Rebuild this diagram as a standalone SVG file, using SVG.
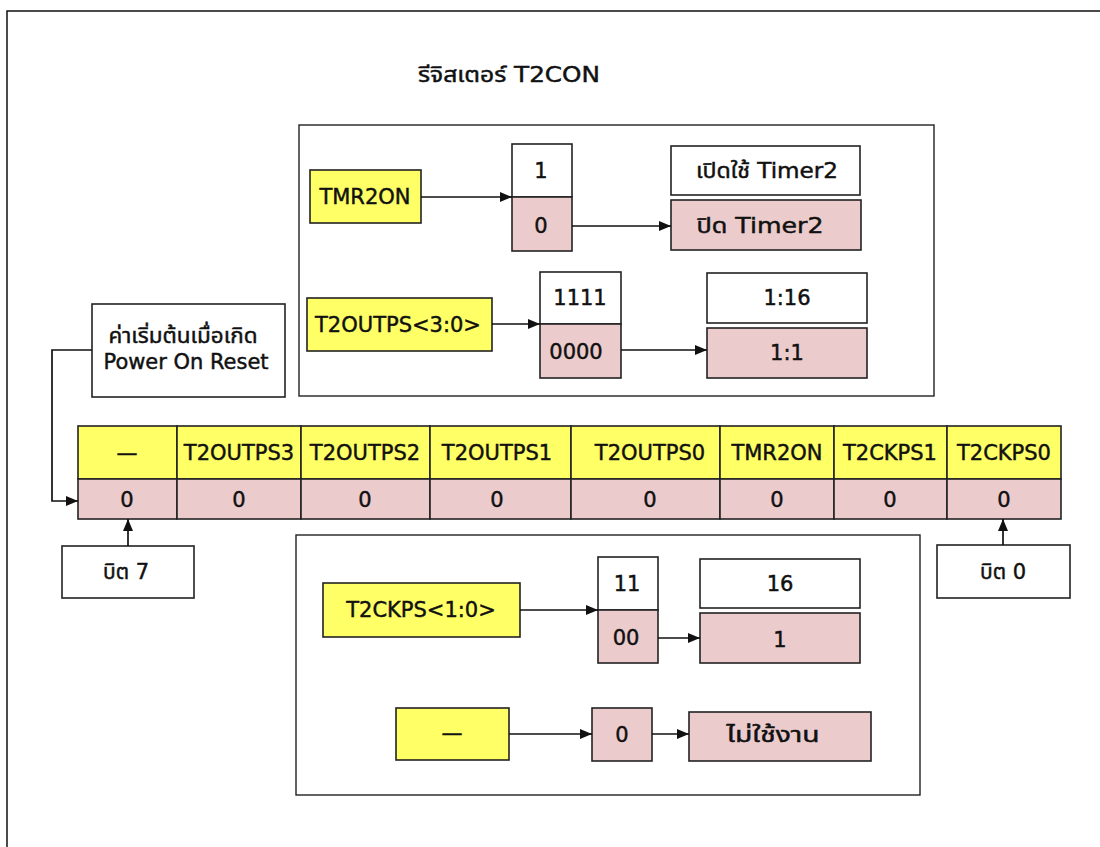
<svg xmlns="http://www.w3.org/2000/svg" width="1100" height="847" viewBox="0 0 1100 847">
  <style>
    text { font-family: "DejaVu Sans", "Noto Sans Thai", "Noto Sans", sans-serif; font-size: 21px; fill: #111; stroke: #111; stroke-width: 0.45; text-anchor: middle; dominant-baseline: central; }
    .box { stroke: #222; stroke-width: 1.6; }
    .white { fill: #ffffff; }
    .yellow { fill: #ffff66; }
    .pink { fill: #ebcbcb; }
    .panel { fill: none; stroke: #222; stroke-width: 1.4; }
    .wire { fill: none; stroke: #111; stroke-width: 1.7; }
  </style>
  <defs>
    <marker id="arrow" viewBox="0 0 12 10" refX="12" refY="5" markerWidth="12" markerHeight="10" markerUnits="userSpaceOnUse" orient="auto">
      <path d="M0,0 L12,5 L0,10 Z" fill="#111"/>
    </marker>
  </defs>

  <rect width="1100" height="847" fill="#ffffff"/>
  <!-- page frame -->
  <rect x="7" y="11" width="1110" height="860" fill="none" stroke="#111" stroke-width="1.5"/>

  <text id="title" x="509" y="75" textLength="182" lengthAdjust="spacingAndGlyphs">รีจิสเตอร์ T2CON</text>

  <!-- upper explanation panel -->
  <rect id="panel-top" class="panel" x="299" y="125" width="635" height="271"/>

  <g id="tmr2on-src">
    <rect class="box yellow" x="310" y="170" width="111" height="53"/>
    <text x="365" y="197">TMR2ON</text>
  </g>
  <g id="tmr2on-bits">
    <rect class="box white" x="512" y="144" width="60" height="53"/>
    <text x="541" y="171">1</text>
    <rect class="box pink" x="512" y="197" width="60" height="54"/>
    <text x="541" y="226">0</text>
  </g>
  <g id="tmr2on-on">
    <rect class="box white" x="671" y="146" width="189" height="49"/>
    <text x="767" y="171" textLength="142" lengthAdjust="spacingAndGlyphs">เปิดใช้ Timer2</text>
  </g>
  <g id="tmr2on-off">
    <rect class="box pink" x="671" y="200" width="190" height="50"/>
    <text x="760" y="226" textLength="127" lengthAdjust="spacingAndGlyphs">ปิด Timer2</text>
  </g>

  <g id="t2outps-src">
    <rect class="box yellow" x="307" y="298" width="185" height="53"/>
    <text x="398" y="325">T2OUTPS&lt;3:0&gt;</text>
  </g>
  <g id="t2outps-bits">
    <rect class="box white" x="540" y="272" width="81" height="52"/>
    <text x="580" y="298">1111</text>
    <rect class="box pink" x="540" y="324" width="81" height="54"/>
    <text x="576" y="352">0000</text>
  </g>
  <g id="t2outps-max">
    <rect class="box white" x="707" y="273" width="160" height="50"/>
    <text x="787" y="298">1:16</text>
  </g>
  <g id="t2outps-min">
    <rect class="box pink" x="707" y="328" width="160" height="50"/>
    <text x="787" y="353">1:1</text>
  </g>

  <!-- reset note -->
  <g id="reset-note">
    <rect class="box white" x="92" y="304" width="193" height="93"/>
    <text x="183" y="336" textLength="149" lengthAdjust="spacingAndGlyphs">ค่าเริ่มต้นเมื่อเกิด</text>
    <text x="186" y="362" textLength="165" lengthAdjust="spacingAndGlyphs">Power On Reset</text>
  </g>

  <!-- T2CON register row -->
  <g id="register">
    <rect class="box yellow" x="78" y="426" width="99" height="53"/>
    <rect class="box yellow" x="177" y="426" width="124" height="53"/>
    <rect class="box yellow" x="301" y="426" width="129" height="53"/>
    <rect class="box yellow" x="430" y="426" width="141" height="53"/>
    <rect class="box yellow" x="571" y="426" width="149" height="53"/>
    <rect class="box yellow" x="720" y="426" width="114" height="53"/>
    <rect class="box yellow" x="834" y="426" width="113" height="53"/>
    <rect class="box yellow" x="947" y="426" width="114" height="53"/>
    <rect class="box pink" x="78" y="479" width="99" height="40"/>
    <rect class="box pink" x="177" y="479" width="124" height="40"/>
    <rect class="box pink" x="301" y="479" width="129" height="40"/>
    <rect class="box pink" x="430" y="479" width="141" height="40"/>
    <rect class="box pink" x="571" y="479" width="149" height="40"/>
    <rect class="box pink" x="720" y="479" width="114" height="40"/>
    <rect class="box pink" x="834" y="479" width="113" height="40"/>
    <rect class="box pink" x="947" y="479" width="114" height="40"/>
    <text x="127" y="453">—</text>
    <text x="239" y="453">T2OUTPS3</text>
    <text x="365" y="453">T2OUTPS2</text>
    <text x="497" y="453">T2OUTPS1</text>
    <text x="650" y="453">T2OUTPS0</text>
    <text x="777" y="453">TMR2ON</text>
    <text x="890" y="453">T2CKPS1</text>
    <text x="1004" y="453">T2CKPS0</text>
    <text x="127" y="500">0</text>
    <text x="239" y="500">0</text>
    <text x="365" y="500">0</text>
    <text x="497" y="500">0</text>
    <text x="650" y="500">0</text>
    <text x="777" y="500">0</text>
    <text x="890" y="500">0</text>
    <text x="1004" y="500">0</text>
  </g>

  <g id="bit7">
    <rect class="box white" x="62" y="546" width="132" height="52"/>
    <text x="126" y="572">บิต 7</text>
  </g>
  <g id="bit0">
    <rect class="box white" x="937" y="545" width="133" height="53"/>
    <text x="1003" y="572">บิต 0</text>
  </g>

  <!-- lower explanation panel -->
  <rect id="panel-bottom" class="panel" x="296" y="535" width="624" height="260"/>

  <g id="t2ckps-src">
    <rect class="box yellow" x="323" y="583" width="197" height="54"/>
    <text x="421" y="610">T2CKPS&lt;1:0&gt;</text>
  </g>
  <g id="t2ckps-bits">
    <rect class="box white" x="598" y="557" width="60" height="53"/>
    <text x="627" y="584">11</text>
    <rect class="box pink" x="598" y="610" width="60" height="53"/>
    <text x="626" y="638">00</text>
  </g>
  <g id="t2ckps-max">
    <rect class="box white" x="700" y="559" width="160" height="49"/>
    <text x="780" y="584">16</text>
  </g>
  <g id="t2ckps-min">
    <rect class="box pink" x="700" y="613" width="160" height="50"/>
    <text x="780" y="640">1</text>
  </g>

  <g id="unused-src">
    <rect class="box yellow" x="396" y="708" width="113" height="52"/>
    <text x="452" y="733">—</text>
  </g>
  <g id="unused-bit">
    <rect class="box pink" x="592" y="708" width="60" height="53"/>
    <text x="622" y="735">0</text>
  </g>
  <g id="unused-desc">
    <rect class="box pink" x="689" y="712" width="182" height="49"/>
    <text x="773" y="735" textLength="93" lengthAdjust="spacingAndGlyphs">ไม่ใช้งาน</text>
  </g>

  <!-- connectors -->
  <g id="connectors">
    <line class="wire" x1="421" y1="197" x2="512" y2="197" marker-end="url(#arrow)"/>
    <line class="wire" x1="572" y1="226" x2="671" y2="226" marker-end="url(#arrow)"/>
    <line class="wire" x1="492" y1="324" x2="540" y2="324" marker-end="url(#arrow)"/>
    <line class="wire" x1="621" y1="350" x2="707" y2="350" marker-end="url(#arrow)"/>
    <polyline class="wire" points="92,350 52,350 52,501 78,501" marker-end="url(#arrow)"/>
    <line class="wire" x1="128" y1="546" x2="128" y2="519" marker-end="url(#arrow)"/>
    <line class="wire" x1="1003" y1="545" x2="1003" y2="519" marker-end="url(#arrow)"/>
    <line class="wire" x1="520" y1="610" x2="598" y2="610" marker-end="url(#arrow)"/>
    <line class="wire" x1="658" y1="638" x2="700" y2="638" marker-end="url(#arrow)"/>
    <line class="wire" x1="509" y1="734" x2="592" y2="734" marker-end="url(#arrow)"/>
    <line class="wire" x1="652" y1="734" x2="689" y2="734" marker-end="url(#arrow)"/>
  </g>
</svg>
